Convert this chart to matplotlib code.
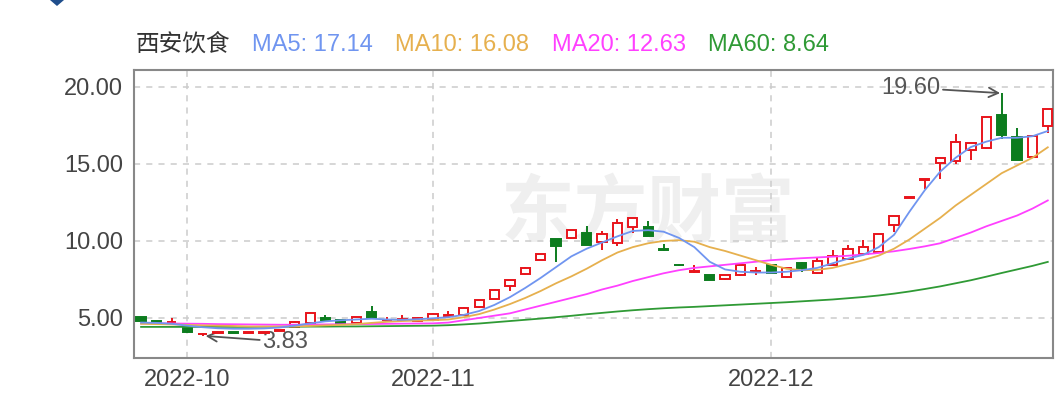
import numpy as np
import matplotlib
matplotlib.use("Agg")
import matplotlib.pyplot as plt
from matplotlib.patches import Polygon

plt.rcParams['font.family'] = ['Liberation Sans', 'Noto Sans CJK SC', 'DejaVu Sans']

#########################
# DATA
stock_name = "西安饮食"
ma_labels = ["MA5: 17.14", "MA10: 16.08", "MA20: 12.63", "MA60: 8.64"]

opens = [5.05, 4.80, 4.72, 4.37, 3.95, 4.03, 4.08, 4.03, 4.03, 4.18,
         4.44, 4.65, 5.02, 4.87, 4.68, 5.38, 4.85, 4.86, 4.78, 4.85,
         5.15, 5.20, 5.68, 6.25, 7.08, 7.84, 8.77, 10.10, 10.18, 10.50,
         9.96, 9.85, 10.93, 10.93, 9.45, 8.46, 8.00, 7.78, 7.50, 7.80,
         7.98, 8.45, 7.65, 8.55, 7.90, 8.45, 8.82, 9.18, 9.31, 11.04,
         12.82, 13.98, 15.09, 15.22, 15.91, 16.02, 18.18, 16.74, 15.48, 17.47]
closes = [4.78, 4.72, 4.76, 4.08, 3.99, 4.08, 4.03, 4.07, 4.07, 4.22,
          4.76, 5.34, 4.85, 4.68, 5.06, 5.00, 4.88, 4.90, 5.00, 5.28,
          5.22, 5.66, 6.15, 6.80, 7.45, 8.27, 9.16, 9.65, 10.71, 9.75,
          10.44, 11.15, 11.50, 10.32, 9.40, 8.42, 8.04, 7.48, 7.78, 8.42,
          8.02, 7.90, 8.22, 8.25, 8.72, 9.03, 9.45, 9.58, 10.45, 11.62,
          12.86, 14.02, 15.41, 16.45, 16.34, 18.03, 16.88, 15.26, 16.82, 18.55]
highs = [5.07, 4.82, 5.02, 4.40, 4.05, 4.10, 4.10, 4.09, 4.09, 4.25,
         4.78, 5.36, 5.20, 4.92, 5.08, 5.75, 5.08, 5.20, 5.05, 5.30,
         5.45, 5.68, 6.17, 6.85, 7.47, 8.29, 9.18, 10.12, 10.73, 10.95,
         10.67, 11.42, 11.52, 11.28, 9.80, 8.48, 8.45, 7.80, 7.80, 8.60,
         8.30, 8.47, 8.24, 8.66, 8.95, 9.40, 9.72, 10.06, 10.48, 11.65,
         12.88, 14.04, 15.43, 16.93, 16.36, 18.05, 19.60, 17.32, 16.84, 18.57]
lows = [4.76, 4.70, 4.62, 4.05, 3.83, 4.00, 4.00, 4.01, 4.01, 4.15,
        4.42, 4.60, 4.83, 4.65, 4.65, 4.98, 4.80, 4.82, 4.75, 4.80,
        5.12, 5.18, 5.65, 6.23, 6.75, 7.82, 8.75, 8.66, 10.15, 9.72,
        9.42, 9.70, 10.50, 10.30, 9.38, 8.40, 7.90, 7.45, 7.48, 7.70,
        7.80, 7.88, 7.62, 8.00, 7.88, 8.42, 8.80, 9.15, 9.28, 10.60,
        12.80, 13.35, 14.00, 15.00, 15.26, 16.00, 16.60, 15.24, 15.45, 17.00]

ma5 = [4.70, 4.68, 4.62, 4.50, 4.40, 4.33, 4.30, 4.30, 4.32, 4.38,
       4.50, 4.65, 4.78, 4.85, 4.90, 4.95, 4.90, 4.88, 4.92, 4.98,
       5.05, 5.20, 5.45, 5.85, 6.35, 6.95, 7.60, 8.30, 9.00, 9.50,
       9.90, 10.30, 10.65, 10.70, 10.60, 10.20, 9.60, 8.65, 8.15, 8.00,
       7.95, 7.95, 8.00, 8.10, 8.25, 8.55, 8.85, 9.10, 9.60, 10.40,
       11.90, 13.30, 14.50, 15.40, 16.10, 16.45, 16.70, 16.70, 16.80, 17.14]
ma10 = [4.62, 4.60, 4.58, 4.55, 4.52, 4.50, 4.48, 4.45, 4.44, 4.44,
        4.45, 4.48, 4.52, 4.55, 4.60, 4.68, 4.75, 4.80, 4.83, 4.85,
        4.90, 5.05, 5.25, 5.55, 5.90, 6.30, 6.75, 7.25, 7.70, 8.20,
        8.75, 9.25, 9.60, 9.85, 10.00, 10.05, 9.95, 9.60, 9.35, 9.05,
        8.75, 8.45, 8.20, 8.10, 8.12, 8.25, 8.50, 8.75, 9.05, 9.50,
        10.10, 10.80, 11.50, 12.30, 13.00, 13.70, 14.40, 14.90, 15.40, 16.08]
ma20 = [4.65, 4.65, 4.64, 4.63, 4.62, 4.60, 4.59, 4.58, 4.57, 4.56,
        4.56, 4.57, 4.58, 4.59, 4.60, 4.61, 4.62, 4.63, 4.64, 4.65,
        4.70, 4.85, 5.00, 5.15, 5.30, 5.55, 5.80, 6.05, 6.30, 6.55,
        6.85, 7.10, 7.40, 7.65, 7.90, 8.10, 8.25, 8.35, 8.45, 8.55,
        8.65, 8.75, 8.82, 8.88, 8.93, 8.98, 9.04, 9.12, 9.22, 9.33,
        9.48, 9.65, 9.85, 10.20, 10.55, 10.95, 11.30, 11.65, 12.10, 12.63]
ma60 = [4.42, 4.42, 4.42, 4.42, 4.42, 4.42, 4.42, 4.42, 4.43, 4.43,
        4.43, 4.44, 4.44, 4.45, 4.45, 4.46, 4.47, 4.48, 4.49, 4.50,
        4.53, 4.58, 4.64, 4.72, 4.80, 4.88, 4.96, 5.05, 5.14, 5.24,
        5.33, 5.42, 5.50, 5.57, 5.63, 5.68, 5.72, 5.77, 5.82, 5.87,
        5.92, 5.97, 6.02, 6.08, 6.14, 6.20, 6.28, 6.36, 6.46, 6.58,
        6.72, 6.88, 7.05, 7.25, 7.45, 7.68, 7.92, 8.15, 8.38, 8.64]

xtick_pos = [3, 19, 41]   # first trading day of each month
xtick_labels = ["2022-10", "2022-11", "2022-12"]
ytick_vals = [5, 10, 15, 20]
#########################

red = "#e8141b"
green = "#0c7c1e"
ma_colors = ["#7095f0", "#e6b04e", "#ff40ff", "#2f9a35"]

fig = plt.figure(figsize=(10.62, 3.94), dpi=100)
ax = fig.add_axes([134 / 1062, 1 - 358 / 394, (1053 - 134) / 1062, (358 - 70) / 394])

idx = np.arange(len(opens))
o = np.array(opens)
c = np.array(closes)
h = np.array(highs)
l = np.array(lows)
up = c >= o

# wicks
ax.vlines(idx[up], l[up], h[up], color=red, lw=1.4, zorder=3)
ax.vlines(idx[~up], l[~up], h[~up], color=green, lw=1.4, zorder=3)
# bodies
body_lo = np.minimum(o, c)
body_h = np.maximum(np.abs(c - o), 0.03)
ax.bar(idx[up], body_h[up], bottom=body_lo[up], width=0.6, facecolor="white",
       edgecolor=red, linewidth=1.4, zorder=4)
ax.bar(idx[~up], body_h[~up], bottom=body_lo[~up], width=0.6, facecolor=green,
       edgecolor=green, linewidth=1.4, zorder=4)

for vals, col in zip([ma60, ma20, ma10, ma5], ma_colors[::-1]):
    ax.plot(idx, vals, color=col, lw=1.3, zorder=5)

# watermark
ax.text(33.0, 11.7, "东方财富", fontsize=53, color="#efefef", ha="center", va="center",
        fontweight="bold", zorder=0, family=['Noto Sans CJK SC'])

ax.set_xlim(-0.46, 59.34)
ax.set_ylim(2.40, 21.10)
ax.set_xticks(xtick_pos)
ax.set_xticklabels(xtick_labels)
ax.set_yticks(ytick_vals)
ax.set_yticklabels([f"{v:.2f}" for v in ytick_vals])
ax.tick_params(length=0, labelsize=17, colors="#444444", pad=8)
ax.grid(True, color="#cccccc", lw=1.1, ls=(0, (4, 4)), zorder=0)
ax.set_axisbelow(True)
for s in ax.spines.values():
    s.set_color("#888888")
    s.set_linewidth(1.5)

# max / min annotations
ax.annotate("19.60", xy=(55.9, 19.6), xytext=(52.0, 19.95), ha="right", va="center",
            fontsize=17, color="#555555",
            arrowprops=dict(arrowstyle="->", color="#555555", lw=1.3, shrinkA=0, shrinkB=0))
ax.annotate("3.83", xy=(4.2, 3.83), xytext=(7.9, 3.45), ha="left", va="center",
            fontsize=17, color="#555555",
            arrowprops=dict(arrowstyle="->", color="#555555", lw=1.3, shrinkA=0, shrinkB=0))

# header
ty = 1 - 45 / 394
fig.text(136 / 1062, ty, stock_name, fontsize=17, color="#333333", va="center", ha="left")
for lab, col, px in zip(ma_labels, ma_colors, [252, 395, 552, 708]):
    fig.text(px / 1062, ty, lab, fontsize=17, color=col, va="center", ha="left")

# little marker cut at the top-left corner
fig.patches.append(Polygon([[50 / 1062, 1.0], [64 / 1062, 1.0], [57 / 1062, 1 - 6 / 394]],
                           closed=True, transform=fig.transFigure, facecolor="#1f4e8c",
                           edgecolor="none"))

fig.savefig("out.png", dpi=100)
